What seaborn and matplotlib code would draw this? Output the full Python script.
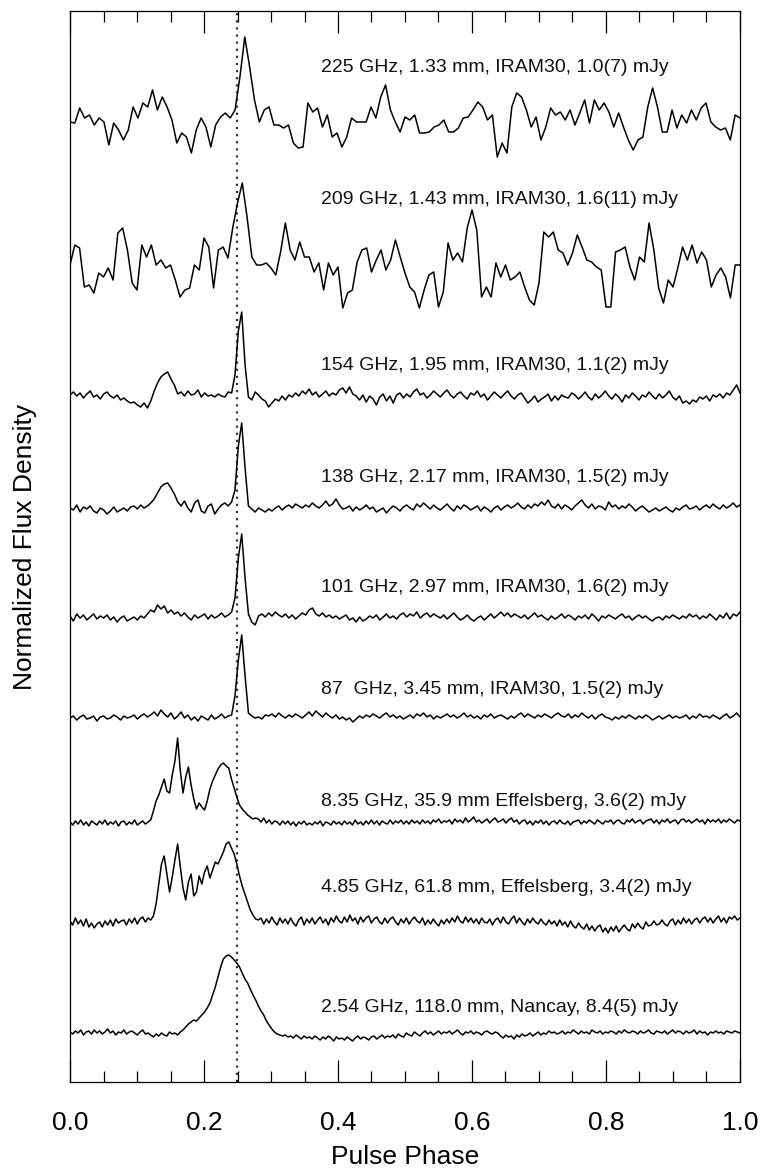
import numpy as np
import matplotlib
matplotlib.use("Agg")
import matplotlib.pyplot as plt
import seaborn as sns
from matplotlib.ticker import MultipleLocator

# ---------------- data (profile amplitudes, arbitrary normalized units) ----------------
p225 = [-2, -3, 12, 2, 5, -5, 2, -2, -25, -3, -10, -20, -10, 13, 2, 17, 13, 30, 10, 23,
        13, 0, -23, -13, -17, -33, -10, 2, -7, -27, -5, 3, 7, 2, 10, 43,
        83,
        53, 20, -2, 10, 13, -5, -5, -8, -5, -23, -28, -27, 17, 8, 12, -7, 5, -17, -13, -27,
        -17, 2, -2, -2, -2, 13, 2, 23, 35, 10, -2, -12, 3, 0, 5, -13, -13, -12, -7, -5,
        0, -12, -12, -8, 2, 3, 10, 18, 13, 0, 5, -37, -23, -33, 13, 27, 23, 10, -7, 3,
        -20, -7, 12, 5, 8, 0, 10, -5, 7, 20, -3, 20, 10, 17, 8, -7, 7, -7, -20, -30,
        -20, -17, 13, 32, 13, -12, -12, 10, -8, 5, -3, 10, 0, 12, 17, -2, -7, -10, -8, -20,
        5, 2]

p209 = [-2, 18, 15, -24, -22, -30, -10, -14, -5, -17, 30, 35, 13, -20, -27, 18, 6, 18, -2, 3,
        -5, -2, -17, -34, -27, -25, -2, -7, 25, 16, -25, 13, 16, 5, 35, 60,
        80,
        46, 6, -2, -2, 0, -5, -12, 11, 40, 13, 3, 21, 6, 6, -9, 0, -27, 0, -12, -4,
        -45, -30, -27, 1, 13, 15, -9, 3, 13, -7, 3, 23, 6, -10, -24, -29, -45, -27, -12, -9,
        -44, -29, 20, 3, 10, 1, 35, 53, 33, -34, -24, -34, 0, -14, -2, -17, -14, -9, -24, -37,
        -42, -20, 31, 26, 31, 13, 10, -2, 10, 28, 16, 3, 1, -4, -7, -44, -44, 11, 13, 16,
        -4, -17, 6, 1, 40, 13, -25, -40, -17, -24, -5, 16, 3, 18, 0, 11, 3, -24, -12, -5,
        -14, -35, -2, -2]

p154 = [2, 5, 1, 4, -1, 3, 6, 0, 2, -2, 3, 5, 1, -1, 2, -3, -1, -4, -6, -5,
        -8, -10, -6, -11, -4, 6, 14, 20, 23, 25, 18, 12, 3, 5, 1, 6, 2, 3, 7, 0,
        4, 1, 2, 0, 3, 1, 0, 5, 4, 22, 66, 85, 32, 0, -3, 5, 2, -2, -4, -10,
        -6, -2, -4, 1, -3, 2, 0, 4, 1, 6, 3, 8, 2, 5, 0, 3, 6, 1, 4, 2,
        7, 9, 4, 10, 3, 1, -3, 2, -5, 1, -2, -8, 0, 3, -4, 1, -6, 2, 4, -1,
        3, 0, 5, 8, 2, 4, -1, 2, 6, 3, 0, 4, 7, 2, -1, 3, 5, 1, -2, 4,
        2, 6, 0, 3, -3, 1, 5, 2, -1, 3, 6, 1, -2, 2, 4, -1, -6, -3, 1, -5,
        -2, 0, 3, -4, 1, -3, 2, 0, -1, 4, 2, -2, 1, 5, 0, -3, 3, -1, 2, 6,
        1, -2, 3, 0, -5, 2, -1, 4, 1, -3, 2, 0, 5, 1, -2, 3, -1, 2, 6, 0,
        -3, 1, -6, -4, -7, -3, -5, 0, -2, 1, -4, 2, 0, 3, -1, 4, 2, 7, 12, 4]

p138 = [0, -2, 3, -4, 1, -1, 2, -3, -5, 0, -2, -6, -3, 1, -4, -2, 0, -3, 1, 2,
        -1, 3, 0, 2, 5, 9, 15, 21, 24, 25, 20, 14, 6, 2, 7, 0, -4, 5, 8, -3,
        -5, 2, 4, -6, -1, 3, 5, 2, 6, 18, 62, 85, 40, 2, -1, -4, 0, -2, -4, -1,
        -3, 0, 2, -2, 1, 3, 0, 4, 2, 0, 3, 1, 5, 2, 0, 3, 7, 2, 4, 9,
        3, -1, 0, 2, -3, 1, -2, 0, 3, -1, 1, -4, -2, 0, -5, -1, 2, 0, -3, 1,
        3, 0, -2, 4, 1, 5, 2, -1, 3, 0, -2, 1, 4, 0, -3, 2, -1, 3, 1, -2,
        0, 2, -3, 1, -1, -4, 0, 2, -2, 1, 3, 0, 2, 5, 1, -1, 3, 0, 4, 2,
        6, 3, 8, 2, 0, 4, -1, 3, 1, -2, 2, 5, 8, 3, 0, 4, -1, 2, 1, -2,
        6, 1, 3, -1, 2, 0, 4, 1, -3, 0, 2, -1, -4, -2, 0, -3, -1, 1, -2, -4,
        0, -2, 1, 3, -1, 0, 2, -2, 1, 3, 0, 4, 1, -1, 3, 0, 2, 5, 1, 3]

p101 = [2, -3, 4, 0, 3, -2, 1, 4, -1, 2, 0, 3, -2, 1, -4, 0, 2, -3, -1, 1,
        -2, 2, 0, 4, 8, 6, 13, 9, 12, 5, 8, 4, 6, 2, 5, 1, -2, 3, 0, 2,
        4, -1, 3, 0, 2, 5, 1, 3, 6, 20, 60, 84, 40, 4, -4, -7, 2, 4, 1, 5,
        2, 6, 3, 1, 4, 0, 3, -1, 2, 5, 3, 8, 10, 4, 2, 5, 1, 3, 0, 2,
        -1, 1, 3, -2, 0, -4, 1, -3, -1, 2, 0, 3, -2, 1, 4, 0, 2, -1, 3, 5,
        1, 4, 2, 6, 0, 3, 5, 1, 4, 2, 0, 3, -1, 2, 5, 1, -2, 0, 3, -1,
        -3, 0, 2, -2, 1, 4, 0, 3, 6, 2, 5, 1, 4, 2, 0, 3, -1, 2, 5, 1,
        3, 0, -2, 2, -1, 1, 4, 0, 3, 1, -2, 2, 0, 3, -1, 4, 1, -3, 2, 0,
        3, 1, -1, 2, 4, 0, 2, -2, 1, 3, 0, 2, -1, -3, 0, 1, -2, 2, 0, 3,
        1, -1, 2, 0, 4, 1, 3, -1, 2, 0, 4, 1, -2, 3, 0, 5, -1, 4, 2, 6]

p87 = [0, 2, -2, 1, 3, -1, 0, 2, -3, 1, 2, -1, 0, 3, 1, -2, 2, 0, 1, 3,
       -1, 2, 4, 1, 3, 6, 2, 8, 4, 1, 5, -1, 2, 6, 0, 3, -2, 1, -3, 2,
       0, -2, 3, -1, 1, 4, 0, 2, 3, 22, 58, 83, 42, 5, 2, 0, 1, -1, 3, 2,
       4, 1, 5, 2, 0, 3, 1, 4, 2, 0, 3, 6, 2, 7, 4, 1, 5, 2, 0, 3,
       -1, 1, -2, 0, -4, -1, 2, 0, 3, 1, 4, 2, 0, 3, 5, 1, 3, 0, 2, -1,
       1, 3, 0, 4, 2, 5, 1, 3, -1, 2, 0, 2, 4, 1, 3, 0, 2, 5, 1, 3,
       0, 2, -1, 3, 1, 4, 0, 2, 3, 1, -1, 2, 0, 3, 5, 1, 4, 2, 0, 3,
       1, 4, 2, 0, 3, 5, 2, 1, 4, 0, 3, 1, 5, 2, 0, 3, -1, 2, 4, 1,
       0, -2, 1, -1, 2, 0, 3, 1, -1, 2, 0, 3, 1, -2, 0, 2, -1, 1, 3, 0,
       2, 0, 1, 3, -1, 2, 0, 4, 1, 2, 0, 3, 1, -1, 2, 4, 0, 2, 5, 1]

p835 = [1, -2, 2, -1, 3, -2, 1, -3, 2, 0, -2, 2, -1, 3, -2, 1, -1, 2, -3, 1,
        2, -2, 1, -1, 3, -2, 0, 2, -1, 1, 3, 12, 22, 28, 36, 44, 32, 30, 48, 62,
        85, 52, 30, 46, 56, 38, 24, 14, 20, 16, 13, 22, 34, 42, 48, 54, 58, 60, 57, 55,
        44, 35, 26, 18, 14, 11, 8, 6, 4, 5, 4, 1, 5, 0, 3, -1, 2, 1, -2, 2,
        -1, 2, -2, 1, -3, 1, -1, 2, -2, 0, -2, 1, -1, 2, -3, 1, 0, -2, 2, -1,
        1, -2, 2, -1, 1, -2, 3, -1, 1, -2, 2, -1, 3, -1, 2, -2, 2, 0, -1, 3,
        -1, 2, 0, 3, -1, 2, -1, 3, 0, 2, -1, 3, 0, 2, -1, 3, 1, 4, 0, 2,
        1, 3, -1, 4, 1, 3, 0, 5, 1, 3, 6, 1, 3, 0, 2, 4, 0, 3, 5, 1,
        2, 4, 0, 3, 5, 1, 3, -1, 2, 3, -1, 2, -2, 2, 0, 3, -1, 2, -2, 1,
        2, -1, 3, 0, -1, 2, -2, 1, 2, 3, -1, 2, 0, 3, 1, -1, 3, 1, -1, 2,
        1, 3, -1, 2, 3, 0, -1, 3, 1, 4, 0, 2, 3, -1, 2, 3, 4, 0, 3, -1,
        3, 1, 4, 0, 2, 3, -1, 3, 4, 1, 3, 0, 2, 4, 1, 3, -1, 4, 1, 3,
        1, 4, 0, 3, 1, 4, 2, 0, 3, 2]

p485 = [1, -3, 4, -2, 2, -4, 3, -5, -1, -6, -2, 0, -5, 1, -3, 2, -4, 3, -1, 1,
        2, -3, 3, -1, 4, -2, 3, 5, 0, 4, 2, 6, 18, 38, 58, 66, 48, 30, 45, 62,
        78, 55, 34, 22, 40, 48, 26, 30, 46, 38, 50, 56, 44, 52, 60, 58, 64, 70, 78, 80,
        74, 68, 58, 46, 36, 28, 20, 12, 7, 3, 2, 4, -2, 3, -1, 5, 0, -3, 4, -1,
        3, -2, 4, -1, -4, 2, 5, -3, 3, -1, 4, -2, 2, 5, -1, 3, -3, 4, 0, 6,
        1, -1, 5, 0, 7, 1, 4, -2, 5, 0, 4, 6, -1, 3, 5, 0, -2, 4, -1, 3,
        5, 0, -3, 3, -1, 4, -2, 2, 5, 1, -1, 4, -3, 2, -2, 3, -1, -4, 2, -2,
        3, -1, 4, 0, 6, 1, -1, 5, 0, 4, -1, 3, -2, 4, 0, -1, 3, -3, 2, 4,
        -1, 5, 0, -2, 3, 6, -1, 4, 0, -3, 3, -1, 4, 0, -2, 3, -1, -3, 2, -2,
        1, -4, 2, -3, 0, -5, 1, -4, -6, -1, -5, -7, -2, -8, -4, -9, -5, -3, -10, -6,
        -11, -5, -9, -4, -10, -6, -3, -7, -9, -2, -6, -1, -5, -7, 0, -4, -3, 1, -3, -2,
        2, -2, -4, 1, 3, -3, 2, -2, 4, -1, 3, -2, 2, 4, -1, 3, 5, 0, 4, -1,
        3, 6, 0, 4, -1, 5, 3, 6, 2, 4]

p254 = [1, -1, 2, 0, 3, -2, 1, 2, -1, 3, 0, 2, -1, 1, 4, 0, 2, -2, 1, 0,
        3, -1, 1, 2, 0, -2, 1, 3, -1, 0, -2, -4, -1, -3, 0, -2, -3, 1, -1, 0,
        -2, 1, 3, 6, 9, 11, 13, 12, 15, 18, 21, 25, 30, 38, 46, 56, 66, 74, 77, 78,
        76, 73, 70, 66, 60, 54, 50, 44, 38, 33, 27, 22, 18, 12, 8, 4, 1, -1, -2, -3,
        -2, -4, -3, -5, -2, -4, -6, -3, -5, -4, -6, -3, -5, -7, -4, -6, -3, -5, -8, -4,
        -6, -5, -7, -4, -6, -8, -5, -3, -6, -4, -5, -7, -4, -3, -6, -4, -2, -5, -3, -4,
        -2, -5, -1, -3, -4, 0, -2, -3, 1, -1, -3, 0, 2, -1, 1, -2, 0, 2, -1, 1,
        0, 2, -1, 1, 3, 0, -2, 1, 0, 2, -1, 1, 0, -2, 1, 2, 0, -1, 1, 0,
        -3, -5, -2, -4, -3, -6, -2, -4, -1, -3, -2, 0, -3, -1, 1, -2, 0, -1, 2, 0,
        1, -1, 0, 2, -1, 1, 0, 3, 1, -1, 2, 0, 1, -1, 3, 1, 0, 2, -1, 1,
        0, 2, 1, -1, 2, 0, 3, 1, 0, 2, 1, -1, 2, 0, 1, 3, 0, -1, 2, 1,
        0, 2, -1, 1, 3, 0, 2, 1, -1, 2, 0, 1, 3, -1, 2, 0, 1, -2, 1, 0,
        2, 0, 1, -1, 2, 1, 0, 2, 1, 0]

profiles = [p225, p209, p154, p138, p101, p87, p835, p485, p254]
labels = ["225 GHz, 1.33 mm, IRAM30, 1.0(7) mJy",
          "209 GHz, 1.43 mm, IRAM30, 1.6(11) mJy",
          "154 GHz, 1.95 mm, IRAM30, 1.1(2) mJy",
          "138 GHz, 2.17 mm, IRAM30, 1.5(2) mJy",
          "101 GHz, 2.97 mm, IRAM30, 1.6(2) mJy",
          "87  GHz, 3.45 mm, IRAM30, 1.5(2) mJy",
          "8.35 GHz, 35.9 mm Effelsberg, 3.6(2) mJy",
          "4.85 GHz, 61.8 mm, Effelsberg, 3.4(2) mJy",
          "2.54 GHz, 118.0 mm, Nancay, 8.4(5) mJy"]
ref_phase = 0.25

# ---------------- layout ----------------
offsets = [962, 819, 685, 574, 464, 364, 259, 160, 49]
label_y = [1014, 882, 717, 605, 495, 392, 280, 194, 74]
label_x = 0.375

sns.set_style("ticks")
plt.rcParams['font.family'] = ['Liberation Sans', 'DejaVu Sans']
plt.rcParams['text.color'] = 'black'
plt.rcParams['axes.labelcolor'] = 'black'
plt.rcParams['xtick.color'] = 'black'
plt.rcParams['xtick.labelcolor'] = 'black'

fig = plt.figure(figsize=(7.6, 11.71), dpi=100)
ax = fig.add_axes([70/760, 1 - 1082/1171, 670/760, 1071/1171])

for prof, off in zip(profiles, offsets):
    ph = np.linspace(0.0, 1.0, len(prof))
    sns.lineplot(x=ph, y=np.asarray(prof, float) + off, ax=ax, color='black',
                 linewidth=1.1, sort=False, estimator=None)

for lab, ly in zip(labels, label_y):
    ax.text(label_x, ly, lab, fontsize=14, ha='left', va='center', color='#111111')

ax.axvline(ref_phase, color='#333333', linestyle=(0, (1.0, 2.2)), linewidth=1.6, zorder=0)

ax.set_xlim(0, 1)
ax.set_ylim(0, 1071)
ax.xaxis.set_major_locator(MultipleLocator(0.2))
ax.xaxis.set_minor_locator(MultipleLocator(0.05))
ax.xaxis.set_major_formatter(matplotlib.ticker.FormatStrFormatter('%.1f'))
ax.tick_params(axis='x', which='both', direction='in', top=True, bottom=True,
               width=0.9, color='black', labelcolor='black')
ax.tick_params(axis='x', which='major', length=16, pad=21, labelsize=19)
ax.tick_params(axis='x', which='minor', length=8)
ax.set_yticks([])
for s in ax.spines.values():
    s.set_linewidth(0.9)
    s.set_color('black')

ax.set_xlabel("Pulse Phase", fontsize=19, labelpad=7, color='black')
ax.set_ylabel("Normalized Flux Density", fontsize=19, labelpad=24, color='black')

fig.savefig("out.png", dpi=100)
